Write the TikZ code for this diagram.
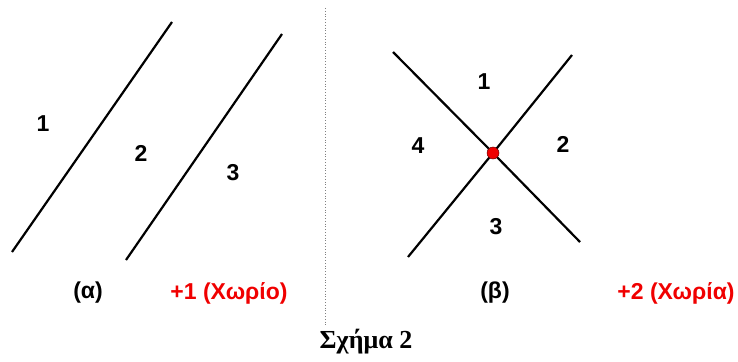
\documentclass[tikz,border=0pt]{standalone}
\usepackage{fontspec}
\setmainfont{Liberation Serif}
\newfontfamily\arialf{Liberation Sans}
\begin{document}
\begin{tikzpicture}[x=1pt,y=-1pt,
  lbl/.style={font=\arialf\bfseries\fontsize{23}{26}\selectfont, inner sep=0pt},
  redlbl/.style={lbl, text={rgb,255:red,240;green,0;blue,0}},
  ln/.style={line width=2.2pt, black},
  sep/.style={gray, line width=0.8pt, dotted}]
\useasboundingbox (0,0) rectangle (738,361);
% left part
\coordinate (a1s) at (12,252);
\coordinate (a1e) at (172,22);
\coordinate (a2s) at (126,260);
\coordinate (a2e) at (282,34);
\draw[ln] (a1s) -- (a1e);
\draw[ln] (a2s) -- (a2e);
\node[lbl] (r1) at (43,124) {1};
\node[lbl] (r2) at (141,153) {2};
\node[lbl] (r3) at (233,173) {3};
\node[lbl] (la) at (88,293) {(α)};
\node[redlbl] (pa) at (229,293) {+1 (Χωρίο)};
% separator
\coordinate (st) at (325,8);
\coordinate (sb) at (325,325);
\draw[sep] (st) -- (sb);
% right part
\coordinate (x) at (493,153);
\coordinate (b1s) at (393,52);
\coordinate (b1e) at (580,242);
\coordinate (b2s) at (408,257);
\coordinate (b2e) at (572,55);
\draw[ln] (b1s) -- (x) -- (b1e);
\draw[ln] (b2s) -- (x) -- (b2e);
\node[circle, fill={rgb,255:red,240;green,0;blue,0}, draw=black!60!red, line width=0.5pt, minimum size=12pt, inner sep=0pt] (dot) at (x) {};
\node[lbl] (q1) at (484,82) {1};
\node[lbl] (q2) at (563,144) {2};
\node[lbl] (q3) at (496,227) {3};
\node[lbl] (q4) at (418,146) {4};
\node[lbl] (lb) at (495,293) {(β)};
\node[redlbl] (pb) at (676,293) {+2 (Χωρία)};
% caption
\node[font=\bfseries\fontsize{26}{30}\selectfont, inner sep=0pt] (cap) at (366,342) {Σχήμα 2};
\end{tikzpicture}
\end{document}
